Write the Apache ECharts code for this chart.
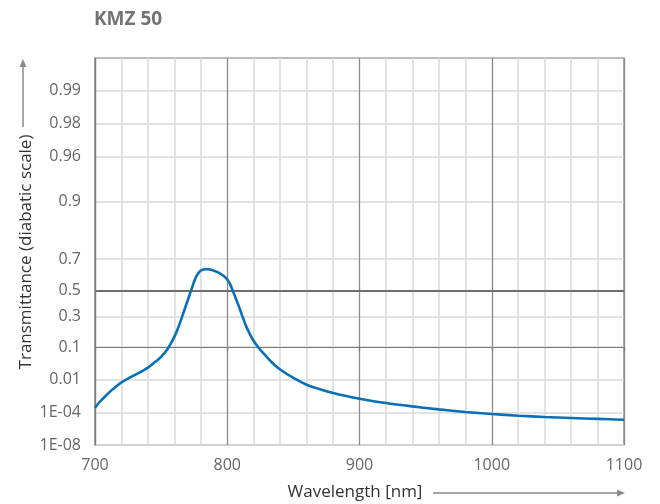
<!DOCTYPE html>
<html>
<head>
<meta charset="utf-8">
<script src="https://cdn.jsdelivr.net/npm/echarts@6/dist/echarts.min.js"></script>
<style>html,body{margin:0;padding:0;background:#fff}#c{width:660px;height:504px}</style>
</head>
<body>
<div id="c"></div>
<script>
// Wavelength (nm)
const wavelengths = [700, 704, 708, 712, 716, 720, 725, 730, 735, 740, 745, 750, 755, 758, 761, 764, 767, 770, 773, 776, 778, 780, 782, 784, 787, 790, 793, 796, 798, 800, 802, 804, 806, 808, 810, 812, 814, 817, 820, 823, 826, 830, 835, 840, 850, 860, 870, 880, 890, 900, 920, 940, 960, 980, 1000, 1020, 1040, 1060, 1080, 1100];
// Transmittance (fraction)
const transmittance = [2.33e-4, 6.88e-4, 1.50e-3, 2.89e-3, 4.89e-3, 7.62e-3, 0.01104, 0.01528, 0.02061, 0.02831, 0.04055, 0.0586, 0.0918, 0.1263, 0.1747, 0.2442, 0.3318, 0.4217, 0.5087, 0.5861, 0.6154, 0.6341, 0.6409, 0.6432, 0.6402, 0.6334, 0.6226, 0.6080, 0.5956, 0.5773, 0.5483, 0.5012, 0.4525, 0.3983, 0.3433, 0.2854, 0.2331, 0.1747, 0.1318, 0.1025, 0.0801, 0.0578, 0.0366, 0.0243, 0.01172, 5.94e-3, 3.56e-3, 2.21e-3, 1.48e-3, 1.01e-3, 5.22e-4, 2.97e-4, 1.74e-4, 1.07e-4, 7.14e-5, 5.04e-5, 3.82e-5, 3.08e-5, 2.52e-5, 2.10e-5];
// Y tick values and their labels (diabatic scale)
const yTickValues = [1e-8, 1e-4, 0.01, 0.1, 0.3, 0.5, 0.7, 0.9, 0.96, 0.98, 0.99];
const yTickLabels = ['1E-08', '1E-04', '0.01', '0.1', '0.3', '0.5', '0.7', '0.9', '0.96', '0.98', '0.99'];
const yTop = 0.995;
const yReference = 0.5;
const xTickValues = [700, 800, 900, 1000, 1100];

// diabatic transform: -log10(-log10(T))
function tf(T) { return -Math.log10(-Math.log10(T)); }

const yTicksT = yTickValues.map(tf);
const lineData = wavelengths.map((w, i) => [w, tf(transmittance[i])]);

const FONT = 'Open Sans';
const chart = echarts.init(document.getElementById('c'), null, {renderer: 'canvas'});
const splitColors = yTickValues.map(v => v === yReference ? '#6e6e6e' : '#dadada');

chart.setOption({
  animation: false,
  title: {
    text: 'KMZ 50', left: 89, top: 5,
    textStyle: {fontFamily: FONT, fontSize: 19, fontWeight: 'bold', color: '#737373'}
  },
  grid: {left: 95, right: 36, top: 58, bottom: 59, show: true, borderColor: '#7a7a7a', borderWidth: 1.2, containLabel: false},
  xAxis: {
    type: 'value', min: 700, max: 1100, interval: 100,
    axisLine: {show: true, lineStyle: {color: '#7a7a7a', width: 1.2}},
    axisTick: {show: true, length: 4, lineStyle: {color: '#7a7a7a', width: 1.2}},
    axisLabel: {color: '#666', fontFamily: FONT, fontSize: 16, margin: 12,
      formatter: v => xTickValues.indexOf(v) >= 0 ? String(v) : ''},
    splitLine: {show: true, lineStyle: {color: '#8a8a8a', width: 1.3}},
    minorTick: {show: false, splitNumber: 5},
    minorSplitLine: {show: true, lineStyle: {color: '#dadada', width: 1.5}}
  },
  yAxis: {
    type: 'value', min: tf(1e-8), max: tf(yTop),
    axisLine: {show: true, lineStyle: {color: '#7a7a7a', width: 1.2}},
    axisTick: {show: false, customValues: yTicksT},
    axisLabel: {color: '#666', fontFamily: FONT, fontSize: 16, margin: 14,
      customValues: yTicksT,
      formatter: v => {
        let best = 0, bd = Infinity;
        yTicksT.forEach((t, i) => { const d = Math.abs(t - v); if (d < bd) { bd = d; best = i; } });
        return yTickLabels[best];
      }},
    splitLine: {show: true, lineStyle: {color: splitColors, width: 1.5}}
  },
  graphic: [
    {type: 'text', x: 26, y: 252, rotation: Math.PI / 2,
      style: {text: 'Transmittance (diabatic scale)', fontFamily: FONT, fontSize: 17, fill: '#333', align: 'center', verticalAlign: 'middle'}},
    {type: 'line', shape: {x1: 23, y1: 127, x2: 23, y2: 66}, style: {stroke: '#8a8a8a', lineWidth: 1.5}},
    {type: 'polygon', shape: {points: [[23, 59], [19.5, 67], [26.5, 67]]}, style: {fill: '#8a8a8a'}},
    {type: 'text', x: 355, y: 492,
      style: {text: 'Wavelength [nm]', fontFamily: FONT, fontSize: 17, fill: '#333', align: 'center', verticalAlign: 'middle'}},
    {type: 'line', shape: {x1: 433, y1: 493, x2: 617, y2: 493}, style: {stroke: '#8a8a8a', lineWidth: 1.5}},
    {type: 'polygon', shape: {points: [[625, 493], [617, 489.5], [617, 496.5]]}, style: {fill: '#8a8a8a'}}
  ],
  series: [{
    type: 'line', data: lineData, smooth: 0.3, showSymbol: false,
    lineStyle: {color: '#0a6fb6', width: 2.6}, z: 5,
    markLine: {
      silent: true, symbol: 'none', label: {show: false}, animation: false,
      lineStyle: {color: '#6e6e6e', width: 2, type: 'solid'},
      data: [{yAxis: tf(yReference)}]
    }
  }]
});
</script>
</body>
</html>
